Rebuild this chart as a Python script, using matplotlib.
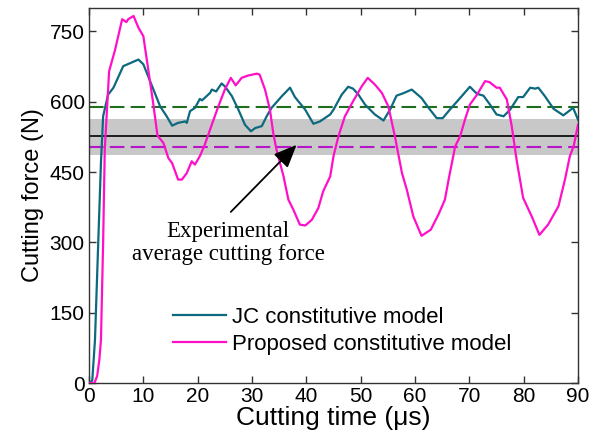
import numpy as np
import matplotlib
matplotlib.use("Agg")
import matplotlib.pyplot as plt

plt.rcParams['font.family'] = ['Liberation Sans', 'DejaVu Sans']

# JC constitutive model (time in us, force in N)
jc_t = [0, 0.6, 1.1, 1.7, 2.2, 2.6, 3.5, 4.5, 6.3, 7.5, 9.1, 10.0, 10.9, 12.1, 13.1,
        14.3, 15.3, 16.4, 17.7, 18.0, 18.6, 19.5, 20.4, 20.8, 22.3, 22.6, 23.4, 24.4,
        25.0, 26.3, 27.5, 28.7, 29.8, 30.6, 31.8, 32.7, 33.6, 35.5, 37.0, 37.9, 39.8,
        41.3, 42.5, 44.4, 45.0, 46.5, 47.7, 48.6, 49.6, 50.8, 52.6, 54.2, 55.4, 56.6,
        57.8, 59.4, 61.2, 62.5, 64.0, 65.1, 66.4, 68.3, 70.1, 71.4, 72.6, 73.8, 75.0,
        76.3, 77.5, 79.0, 79.9, 81.2, 82.1, 82.7, 83.9, 85.5, 87.3, 89.1, 90.0]
jc_f = [0, 5, 92, 300, 470, 569, 615, 630, 676, 682, 690, 680, 654, 619, 590,
        569, 549, 555, 558, 555, 580, 587, 606, 603, 619, 626, 622, 639,
        633, 612, 583, 551, 537, 544, 548, 569, 587, 612, 630, 610, 583,
        553, 558, 573, 583, 615, 632, 628, 615, 594, 573, 560, 583, 613,
        618, 626, 608, 587, 565, 565, 583, 608, 632, 617, 613, 594, 573,
        569, 583, 610, 610, 630, 628, 630, 612, 585, 571, 587, 562]

# Proposed constitutive model
pr_t = [0, 1.0, 1.5, 1.9, 2.2, 2.6, 2.9, 3.7, 4.8, 6.1, 6.9, 7.2, 8.2, 9.1, 10.0,
        10.9, 11.8, 12.6, 13.7, 14.6, 15.3, 16.4, 17.1, 18.0, 18.9, 19.5, 20.4, 21.2,
        22.6, 23.8, 25.0, 26.1, 27.0, 28.1, 29.3, 30.9, 31.4, 32.4, 33.3, 33.9, 34.5,
        35.8, 36.7, 37.6, 38.8, 39.8, 41.0, 42.2, 43.1, 44.4, 45.0, 45.9, 47.1, 48.6,
        50.2, 51.3, 52.6, 53.9, 55.1, 56.3, 57.6, 58.5, 59.7, 61.2, 62.9, 64.3, 65.5,
        66.3, 67.4, 68.3, 69.2, 70.1, 71.4, 72.9, 73.7, 75.0, 75.6, 76.9, 77.8, 78.7,
        79.9, 81.5, 82.9, 84.5, 86.4, 87.6, 88.5, 89.2, 90.0]
pr_f = [0, 0, 15, 49, 92, 300, 498, 665, 711, 776, 770, 776, 783, 758, 740,
        669, 598, 528, 512, 480, 469, 434, 434, 448, 473, 466, 484, 505,
        551, 590, 626, 651, 635, 651, 656, 660, 658, 626, 583, 534, 498,
        441, 391, 370, 338, 336, 348, 373, 409, 441, 484, 526, 569, 601,
        633, 651, 637, 619, 590, 526, 448, 412, 355, 314, 327, 359, 391,
        441, 505, 526, 562, 594, 615, 644, 642, 630, 630, 605, 548, 476,
        395, 355, 316, 338, 377, 434, 484, 505, 551]

exp_mean = 527
exp_low, exp_high = 487, 563
jc_mean = 588
pr_mean = 503

teal = "#0d6a7e"
pink = "#ff10c8"

fig = plt.figure(figsize=(5.91, 4.45), dpi=100)
ax = fig.add_axes([0.1506, 0.1393, 0.8274, 0.8427])

ax.axhspan(exp_low, exp_high, color="#c8c8c8", lw=0, zorder=1)
ax.axhline(exp_mean, color="black", lw=1.2, zorder=2)
ax.axhline(jc_mean, color="#1e6e1e", lw=1.5, ls=(0, (7, 3)), zorder=2)
ax.axhline(pr_mean, color="#b416c8", lw=1.5, ls=(0, (7, 3)), zorder=2)

ax.plot(jc_t, jc_f, color=teal, lw=1.6, label="JC constitutive model", zorder=3)
ax.plot(pr_t, pr_f, color=pink, lw=1.6, label="Proposed constitutive model", zorder=3)

# arrow and label for the experimental band
ax.annotate("", xy=(38.2, 508), xytext=(26.1, 365),
            arrowprops=dict(arrowstyle="-|>,head_length=0.7,head_width=0.3",
                            color="black", lw=1.3, mutation_scale=20,
                            shrinkA=0, shrinkB=0), zorder=4)
ax.text(25.6, 299, "Experimental\naverage cutting force", ha="center", va="center",
        fontsize=16.5, family="Liberation Serif", linespacing=1.15)

ax.set_xlim(0, 90)
ax.set_ylim(0, 800)
ax.set_xticks(np.arange(0, 91, 10))
ax.set_yticks(np.arange(0, 751, 150))
ax.tick_params(direction="in", top=True, right=True, length=5, width=1,
               labelsize=15, colors="#333333", labelcolor="black", pad=3)
for s in ax.spines.values():
    s.set_color("#333333")
    s.set_linewidth(1)

ax.set_xlabel("Cutting time (μs)", fontsize=19, labelpad=0)
ax.set_ylabel("Cutting force (N)", fontsize=17, labelpad=4)

ax.legend(loc="center left", bbox_to_anchor=(0.172, 0.139), frameon=False,
          borderpad=0, borderaxespad=0,
          fontsize=16, handlelength=2.4, handletextpad=0.27, labelspacing=0.28)

fig.savefig("out.png", dpi=100)
